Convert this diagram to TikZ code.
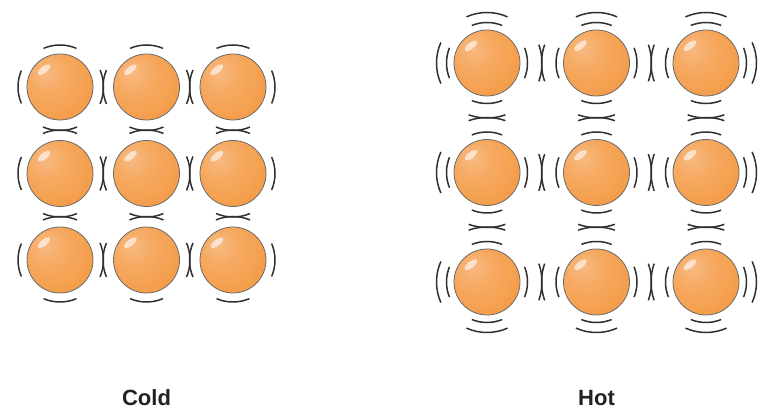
\documentclass[tikz,border=0pt]{standalone}
\usepackage{fontspec}
\setmainfont{Liberation Sans}
\definecolor{orbLight}{HTML}{F8BA84}
\definecolor{orbSoft}{HTML}{F6AA62}
\definecolor{orbMid}{HTML}{F49D4A}
\definecolor{orbWarm}{HTML}{F2913A}
\definecolor{orbDeep}{HTML}{EE8020}
\definecolor{orbRim}{HTML}{F39442}
\definecolor{orbEdge}{HTML}{6A6A6A}
\definecolor{waveInk}{HTML}{303030}
\definecolor{labelInk}{HTML}{222222}
% off-centre radial fill: light upper left, deeper crescent lower right
\pgfdeclareradialshading{orb}{\pgfpoint{-12bp}{12bp}}{%
  color(0bp)=(orbLight); color(14bp)=(orbSoft); color(32bp)=(orbMid);
  color(52bp)=(orbWarm); color(57bp)=(orbDeep); color(64bp)=(orbDeep);
  color(68bp)=(orbRim)}
\tikzset{
  orbnode/.style={circle, minimum size=66pt, inner sep=0pt, draw=orbEdge,
    line width=0.8pt, shading=orb},
  gleam/.style={fill=white, opacity=0.6},
  wave/.style={draw=waveInk, line width=1.5pt},
  caption/.style={font=\bfseries\fontsize{22}{22}\selectfont, text=labelInk,
    anchor=base, inner sep=0pt}
}
% one arc of radius #1 centred on direction #2, half opening #3
\newcommand\wavearc[3]{%
  \draw[wave] (#2-#3:#1) arc[start angle=#2-#3, end angle=#2+#3, radius=#1];}
\begin{document}
\begin{tikzpicture}[x=1pt, y=1pt]
\useasboundingbox (0,0) rectangle (758,412);

% ---------- cold lattice ----------
\foreach \i/\x in {1/60, 2/146.5, 3/233} {
  \foreach \j/\y in {1/325, 2/238.5, 3/152} {
    \node[orbnode] (c\i\j) at (\x,\y) {};
    \begin{scope}[shift={(c\i\j.center)}]
      \fill[gleam, rotate=38] (-2,23.5) ellipse [x radius=7.5, y radius=3.2];
      \pgfmathsetmacro\rr{\i<3 ? 43.5 : 42}
      \pgfmathsetmacro\sr{\i<3 ? 23 : 23}
      \pgfmathsetmacro\rl{\i>1 ? 43.5 : 42}
      \pgfmathsetmacro\sl{\i>1 ? 23 : 23}
      \pgfmathsetmacro\ru{\j>1 ? 43.5 : 42}
      \pgfmathsetmacro\su{\j>1 ? 23 : 23}
      \pgfmathsetmacro\rd{\j<3 ? 43.5 : 42}
      \pgfmathsetmacro\sd{\j<3 ? 23 : 23}
      \wavearc{\rr}{0}{\sr}
      \wavearc{\ru}{90}{\su}
      \wavearc{\rl}{180}{\sl}
      \wavearc{\rd}{270}{\sd}
    \end{scope}
  }
}

% ---------- hot lattice ----------
\foreach \i/\x in {1/487, 2/596.5, 3/706} {
  \foreach \j/\y in {1/349, 2/239.5, 3/130} {
    \node[orbnode] (h\i\j) at (\x,\y) {};
    \begin{scope}[shift={(h\i\j.center)}]
      \fill[gleam, rotate=38] (-2,23.5) ellipse [x radius=7.5, y radius=3.2];
      % inner ring of arcs
      \foreach \a in {0,90,180,270} { \wavearc{40.5}{\a}{22} }
      % outer ring: crossing arcs between neighbours, free arcs at the edge
      \pgfmathsetmacro\rr{\i<3 ? 55 : 50.5}
      \pgfmathsetmacro\sr{\i<3 ? 19.5 : 24}
      \pgfmathsetmacro\rl{\i>1 ? 55 : 50.5}
      \pgfmathsetmacro\sl{\i>1 ? 19.5 : 24}
      \pgfmathsetmacro\ru{\j>1 ? 55 : 50.5}
      \pgfmathsetmacro\su{\j>1 ? 19.5 : 24}
      \pgfmathsetmacro\rd{\j<3 ? 55 : 50.5}
      \pgfmathsetmacro\sd{\j<3 ? 19.5 : 24}
      \wavearc{\rr}{0}{\sr}
      \wavearc{\ru}{90}{\su}
      \wavearc{\rl}{180}{\sl}
      \wavearc{\rd}{270}{\sd}
    \end{scope}
  }
}

% ---------- captions ----------
\node[caption] (coldlabel) at (146.5,6) {Cold};
\node[caption] (hotlabel) at (596.5,6) {Hot};
\end{tikzpicture}
\end{document}
